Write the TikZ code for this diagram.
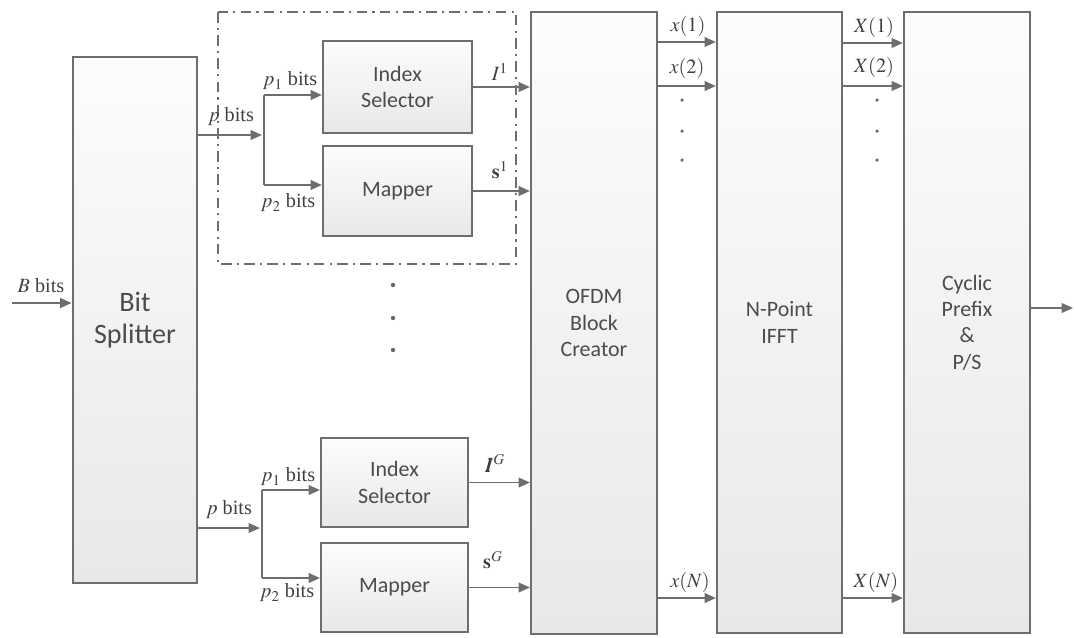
\documentclass[tikz,border=0pt]{standalone}
\usepackage{mathptmx}
\usepackage{bm}
\usepackage{fontspec}
\setmainfont{Liberation Serif}
\newfontfamily\boxfont{Carlito}
\usetikzlibrary{arrows.meta}
\definecolor{edge}{RGB}{110,110,110}
\tikzset{
  blk/.style={draw=edge, line width=1.2pt, top color=black!1, bottom color=black!9, inner sep=0pt, align=center, font=\boxfont\fontsize{12.5}{15}\selectfont, text=black!70},
  arr/.style={draw=edge, line width=1.1pt, -{Triangle[length=6.5pt,width=5.5pt]}},
  lin/.style={draw=edge, line width=1.1pt},
  lbl/.style={font=\fontsize{11.5}{13}\selectfont, text=black!75, inner sep=1pt},
  ddot/.style={fill=black!60, circle, inner sep=0pt, minimum size=2.5pt},
  frame/.style={draw=edge, line width=0.9pt, dash pattern=on 6pt off 3pt on 1.2pt off 3pt}
}
\begin{document}
\begin{tikzpicture}[x=0.02cm, y=-0.02cm]
\useasboundingbox (0,0) rectangle (1074,637);
% blocks
\node[blk, line width=1.6pt, minimum width=2.48cm, minimum height=10.52cm, font=\boxfont\fontsize{16}{18}\selectfont] (BS) at (135,320) {Bit\\Splitter};
\node[blk, minimum width=2.98cm, minimum height=1.84cm] (IS1) at (397.5,87) {Index\\Selector};
\node[blk, minimum width=2.98cm, minimum height=1.80cm] (M1) at (397.5,191) {Mapper};
\node[blk, minimum width=2.94cm, minimum height=1.78cm] (IS2) at (394.5,482.5) {Index\\Selector};
\node[blk, minimum width=2.94cm, minimum height=1.78cm] (M2) at (394.5,587.5) {Mapper};
\node[blk, minimum width=2.52cm, minimum height=12.44cm] (OFDM) at (594,323) {OFDM\\Block\\Creator};
\node[blk, minimum width=2.50cm, minimum height=12.42cm] (IFFT) at (779.5,322.5) {N-Point\\IFFT};
\node[blk, minimum width=2.52cm, minimum height=12.42cm] (CP) at (967,322.5) {Cyclic\\Prefix\\\&\\P/S};
% dash-dot frame
\draw[frame] (218,12) rectangle (516,264);
% input
\coordinate (in) at (12,303);
\draw[arr] (in) -- (in -| BS.west);
\node[lbl, anchor=south] (Bl) at (41,295) {$B$ bits};
% top group
\coordinate (j1) at (262,135);
\draw[arr] (j1 -| BS.east) -- (j1);
\node[lbl, anchor=south] (pl1) at (231,128) {$p$ bits};
\coordinate (a1) at (264,95);
\coordinate (b1) at (264,185);
\draw[lin] (a1) -- (b1);
\draw[arr] (a1) -- (a1 -| IS1.west);
\draw[arr] (b1) -- (b1 -| M1.west);
\node[lbl] (p11) at (290,81) {$p_1$ bits};
\node[lbl] (p21) at (288,203) {$p_2$ bits};
\draw[arr] (IS1.east) -- (IS1.east -| OFDM.west);
\draw[arr] (M1.east) -- (M1.east -| OFDM.west);
\node[lbl] (I1) at (500,72) {$I^1$};
\node[lbl] (s1) at (500,170) {$\mathbf{s}^1$};
% middle dots
\node[ddot] (v1) at (393,285) {};
\node[ddot] (v2) at (393,318) {};
\node[ddot] (v3) at (393,350) {};
% bottom group
\coordinate (j2) at (260,528);
\draw[arr] (j2 -| BS.east) -- (j2);
\node[lbl, anchor=south] (pl2) at (229,521) {$p$ bits};
\coordinate (a2) at (262,490);
\coordinate (b2) at (262,578);
\draw[lin] (a2) -- (b2);
\draw[arr] (a2) -- (a2 -| IS2.west);
\draw[arr] (b2) -- (b2 -| M2.west);
\node[lbl] (p12) at (288,477) {$p_1$ bits};
\node[lbl] (p22) at (287,593) {$p_2$ bits};
\draw[arr] (IS2.east) -- (IS2.east -| OFDM.west);
\draw[arr] (M2.east) -- (M2.east -| OFDM.west);
\node[lbl] (IG) at (495,463) {$\bm{I}^G$};
\node[lbl] (sG) at (493,560) {$\mathbf{s}^G$};
% OFDM -> IFFT
\coordinate (r1) at (687,42);
\coordinate (r2) at (687,86);
\coordinate (rN) at (687,598);
\draw[arr] (r1 -| OFDM.east) -- (r1 -| IFFT.west);
\draw[arr] (r2 -| OFDM.east) -- (r2 -| IFFT.west);
\draw[arr] (rN -| OFDM.east) -- (rN -| IFFT.west);
\node[lbl] (x1) at (688,26) {$x(1)$};
\node[lbl] (x2) at (687,68) {$x(2)$};
\node[lbl] (xN) at (690,582) {$x(N)$};
\node[ddot, minimum size=2pt] (d1) at (682,100) {};
\node[ddot, minimum size=2pt] (d2) at (682,131) {};
\node[ddot, minimum size=2pt] (d3) at (682,160) {};
% IFFT -> CP
\coordinate (q1) at (873,43);
\coordinate (q2) at (873,86);
\coordinate (qN) at (873,598);
\draw[arr] (q1 -| IFFT.east) -- (q1 -| CP.west);
\draw[arr] (q2 -| IFFT.east) -- (q2 -| CP.west);
\draw[arr] (qN -| IFFT.east) -- (qN -| CP.west);
\node[lbl] (X1) at (874,27) {$X(1)$};
\node[lbl] (X2) at (874,67) {$X(2)$};
\node[lbl] (XN) at (876,582) {$X(N)$};
\node[ddot, minimum size=2pt] (e1) at (877,100) {};
\node[ddot, minimum size=2pt] (e2) at (877,131) {};
\node[ddot, minimum size=2pt] (e3) at (877,160) {};
% output
\coordinate (out) at (1073,308);
\draw[arr] (out -| CP.east) -- (out);
\end{tikzpicture}
\end{document}
